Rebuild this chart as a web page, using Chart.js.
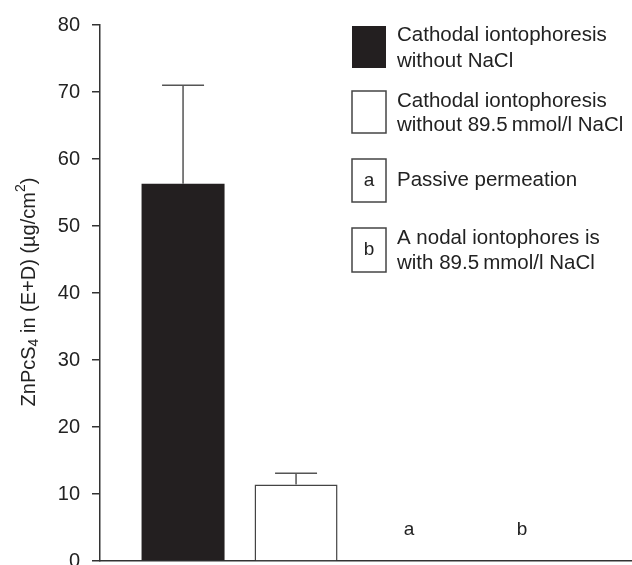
<!DOCTYPE html>
<html>
<head>
<meta charset="utf-8">
<script src="https://cdn.jsdelivr.net/npm/chart.js@4.4.1/dist/chart.umd.min.js"></script>
<style>
  html, body { margin: 0; padding: 0; background: #fff; }
  canvas { display: block; }
</style>
</head>
<body>
<canvas id="chart" width="632" height="565"></canvas>
<script>
// Datos
const categories = [
  "Cathodal iontophoresis without NaCl",
  "Cathodal iontophoresis without 89.5\u2009mmol/l NaCl",
  "Passive permeation",
  "A nodal iontophores is with 89.5\u2009mmol/l NaCl"
];
const legendLines = [
  ["Cathodal iontophoresis", "without NaCl"],
  ["Cathodal iontophoresis", "without 89.5\u2009mmol/l NaCl"],
  ["Passive permeation"],
  ["A nodal iontophores is", "with 89.5\u2009mmol/l NaCl"]
];
const means = [56.3, 11.4, 0, 0];
const errors = [14.7, 1.7, 0, 0];
const markers = ["", "", "a", "b"];
const yTicks = [0, 10, 20, 30, 40, 50, 60, 70, 80];

const FONT = "'Liberation Sans', Arial, Helvetica, sans-serif";
const DARK = "#231f20";
const LINE = "#444";

// Barras de error (solo hacia arriba) y letras a / b
const extrasPlugin = {
  id: "extras",
  afterDatasetsDraw(chart) {
    const ctx = chart.ctx;
    const meta = chart.getDatasetMeta(0);
    const y = chart.scales.y;
    ctx.save();
    ctx.strokeStyle = "#555";
    ctx.lineWidth = 1.5;
    errors.forEach((err, i) => {
      if (!err) return;
      const x = meta.data[i].x;
      const y0 = y.getPixelForValue(means[i]);
      const y1 = y.getPixelForValue(means[i] + err);
      ctx.beginPath();
      ctx.moveTo(x, y0);
      ctx.lineTo(x, y1);
      ctx.moveTo(x - 21, y1);
      ctx.lineTo(x + 21, y1);
      ctx.stroke();
    });
    ctx.fillStyle = "#222";
    ctx.font = "19px " + FONT;
    ctx.textAlign = "center";
    ctx.textBaseline = "middle";
    markers.forEach((m, i) => {
      if (!m) return;
      const x = chart.scales.x.getPixelForValue(i);
      ctx.fillText(m, x, y.getPixelForValue(0) - 31);
    });
    ctx.restore();
  },
  afterDraw(chart) {
    const ctx = chart.ctx;
    ctx.save();
    // Leyenda
    const boxX = 352, boxW = 34, textX = 397;
    const entries = [
      { top: 26, h: 42, lines: [35, 61] },
      { top: 91, h: 42, lines: [101, 125] },
      { top: 159, h: 43, lines: [180] },
      { top: 228, h: 44, lines: [238, 263] }
    ];
    const legendFont = "20.5px " + FONT;
    ctx.font = legendFont;
    ctx.textBaseline = "middle";
    entries.forEach((e, i) => {
      if (i === 0) {
        ctx.fillStyle = DARK;
        ctx.fillRect(boxX, e.top, boxW, e.h);
      } else {
        ctx.strokeStyle = LINE;
        ctx.lineWidth = 1.5;
        ctx.strokeRect(boxX, e.top, boxW, e.h);
      }
      if (markers[i]) {
        ctx.fillStyle = "#222";
        ctx.textAlign = "center";
        ctx.font = "19px " + FONT;
        ctx.fillText(markers[i], boxX + boxW / 2, e.top + e.h / 2);
        ctx.font = legendFont;
      }
      ctx.fillStyle = "#222";
      ctx.textAlign = "left";
      legendLines[i].forEach((t, k) => ctx.fillText(t, textX, e.lines[k]));
    });

    // Título del eje Y con subíndice y superíndice
    const parts = [
      { t: "ZnPcS", s: 20, dy: 0 },
      { t: "4", s: 14, dy: 5 },
      { t: " in (E+D) (\u00b5g/cm", s: 20, dy: 0 },
      { t: "2", s: 14, dy: -8 },
      { t: ")", s: 20, dy: 0 }
    ];
    let total = 0;
    parts.forEach(p => {
      ctx.font = p.s + "px " + FONT;
      p.w = ctx.measureText(p.t).width;
      total += p.w;
    });
    ctx.translate(29, 292);
    ctx.rotate(-Math.PI / 2);
    ctx.fillStyle = "#222";
    ctx.textAlign = "left";
    ctx.textBaseline = "middle";
    let px = -total / 2;
    parts.forEach(p => {
      ctx.font = p.s + "px " + FONT;
      ctx.fillText(p.t, px, p.dy);
      px += p.w;
    });
    ctx.restore();
  }
};

const ctx = document.getElementById("chart").getContext("2d");
const chart = new Chart(ctx, {
  type: "bar",
  data: {
    datasets: [{
      label: "ZnPcS4",
      data: means.map((v, i) => ({ x: i, y: v })),
      backgroundColor: [DARK, "#ffffff", "rgba(0,0,0,0)", "rgba(0,0,0,0)"],
      borderColor: [DARK, LINE, "rgba(0,0,0,0)", "rgba(0,0,0,0)"],
      borderWidth: [0, 1.5, 0, 0],
      inflateAmount: 0,
      barThickness: 83
    }]
  },
  options: {
    responsive: false,
    animation: false,
    devicePixelRatio: 1,
    layout: { padding: { top: 25, bottom: 4, left: 0, right: 0 } },
    plugins: {
      legend: { display: false },
      tooltip: { enabled: false }
    },
    scales: {
      x: {
        type: "linear",
        offset: false,
        min: -0.735,
        max: 3.973,
        ticks: { display: false },
        grid: { display: false, drawTicks: false },
        border: { display: true, color: "#333", width: 1.5 }
      },
      y: {
        min: 0,
        max: 80,
        afterBuildTicks: (scale) => {
          scale.ticks = yTicks.map(v => ({ value: v }));
        },
        afterFit: (scale) => {
          scale.width = 100;
          scale.paddingTop = 0;
          scale.paddingBottom = 0;
        },
        ticks: {
          color: "#222",
          padding: 12,
          font: { family: FONT, size: 20 }
        },
        grid: {
          drawOnChartArea: false,
          drawTicks: true,
          tickLength: 8,
          color: "#333",
          lineWidth: 1.5
        },
        border: { display: true, color: "#333", width: 1.5 }
      }
    }
  },
  plugins: [extrasPlugin]
});
</script>
</body>
</html>
